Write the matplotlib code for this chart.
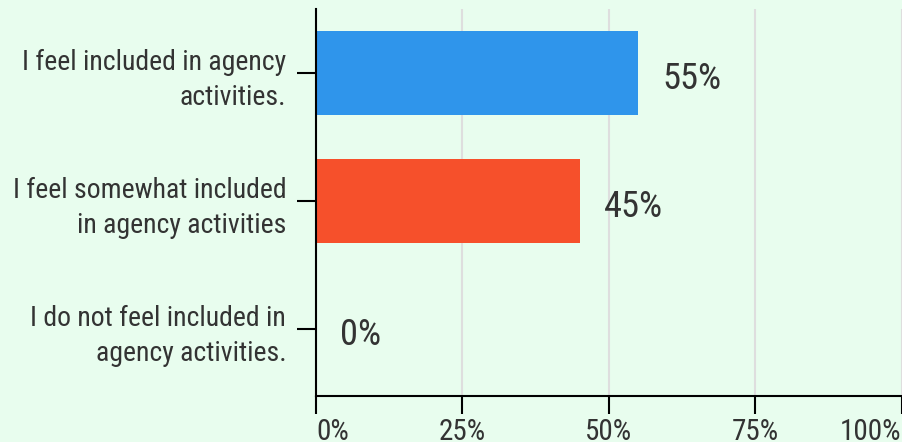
import matplotlib
matplotlib.use("Agg")
import matplotlib.pyplot as plt
from matplotlib import font_manager

# Survey responses on agency inclusion
categories = [
    "I feel included in agency\nactivities.",
    "I feel somewhat included\nin agency activities",
    "I do not feel included in\nagency activities.",
]
values = [55, 45, 0]
value_labels = ["55%", "45%", "0%"]
bar_colors = ["#2f95eb", "#f6502b", "#9e9e9e"]
xticks = [0, 25, 50, 75, 100]
xtick_labels = ["0%", "25%", "50%", "75%", "100%"]

# Prefer a condensed sans face when one is installed
installed = {f.name for f in font_manager.fontManager.ttflist}
family = "Roboto"
for cand in ["Roboto Condensed", "Liberation Sans Narrow", "Roboto"]:
    if cand in installed:
        family = cand
        break
plt.rcParams["font.family"] = [family, "DejaVu Sans"]

BG = "#e8fdee"
TEXT = "#333333"
DPI = 100
W, H = 903, 442

fig = plt.figure(figsize=(W / DPI, H / DPI), dpi=DPI, facecolor=BG)
ax = fig.add_axes([316 / W, 1 - 395.7 / H, (901.7 - 316) / W, (395.7 - 9) / H])
ax.set_facecolor(BG)

ypos = list(range(len(categories)))
ax.barh(ypos, values, height=0.653, color=bar_colors, zorder=3)

ax.set_xlim(0, 100)
ax.set_ylim(2.521, -0.498)

ax.set_xticks(xticks)
ax.set_xticklabels(xtick_labels, fontsize=21, color=TEXT)
labels = ax.get_xticklabels()
labels[0].set_horizontalalignment("left")
labels[-1].set_horizontalalignment("right")

ax.set_yticks(ypos)
ax.set_yticklabels(categories, fontsize=20, color=TEXT, linespacing=1.37,
                   multialignment="right")

ax.grid(axis="x", color="#dedede", linewidth=1.5, zorder=0)
ax.grid(axis="y", visible=False)

for side in ["top", "right"]:
    ax.spines[side].set_visible(False)
for side in ["left", "bottom"]:
    ax.spines[side].set_color("black")
    ax.spines[side].set_linewidth(1.5)
    ax.spines[side].set_zorder(4)

ax.tick_params(axis="x", direction="out", length=13.3, width=1.5, color="black", pad=2.5)
ax.tick_params(axis="y", direction="out", length=13.5, width=1.5, color="black", pad=8)

for y, v, lab in zip(ypos, values, value_labels):
    ax.annotate(lab, xy=(v, y), xytext=(24, -16.5), textcoords="offset pixels",
                ha="left", va="baseline", fontsize=26.3, color=TEXT, zorder=5)

fig.savefig("out.png", dpi=DPI, facecolor=BG)
